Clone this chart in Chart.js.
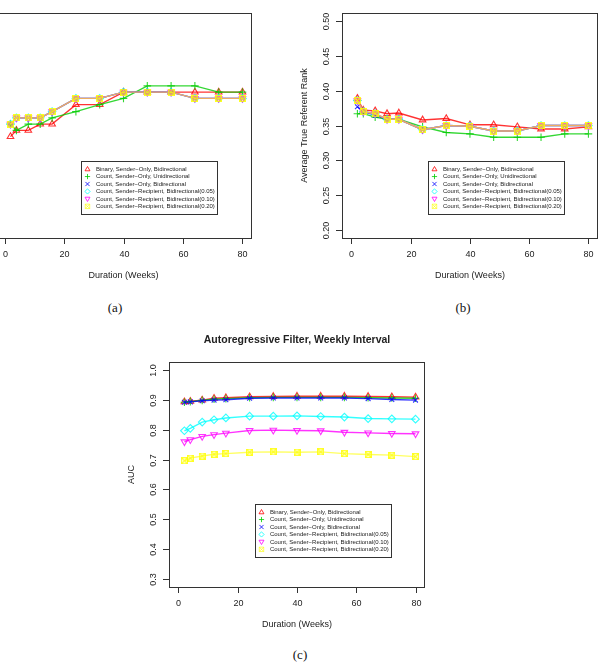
<!DOCTYPE html>
<html>
<head>
<meta charset="utf-8">
<title>Duration vs. performance</title>
<script src="https://cdn.jsdelivr.net/npm/chart.js@4.4.0/dist/chart.umd.min.js"></script>
<style>
    html, body { margin: 0; padding: 0; background: #fff; }
    body { position: relative; width: 603px; height: 666px; overflow: hidden; }
    .panel { position: absolute; }
    .cap {
        position: absolute;
        font-family: "Liberation Serif", "DejaVu Serif", serif;
        font-size: 13px;
        color: #111;
        -webkit-font-smoothing: antialiased;
        transform: translate(-50%, -50%);
    }
</style>
</head>
<body>
<div class="panel" style="left:-60px; top:0px;"><canvas id="chart-a" width="320" height="290"></canvas></div>
<div class="panel" style="left:300px; top:0px;"><canvas id="chart-b" width="303" height="290"></canvas></div>
<div class="panel" style="left:120px; top:325px;"><canvas id="chart-c" width="320" height="310"></canvas></div>
<div class="cap" style="left:115px; top:308px;">(a)</div>
<div class="cap" style="left:463px; top:308px;">(b)</div>
<div class="cap" style="left:300px; top:655px;">(c)</div>

<script>
// Durations (weeks) shared by every series
const weeks = [2, 4, 8, 12, 16, 24, 32, 40, 48, 56, 64, 72, 80];

const seriesLabels = [
    'Binary, Sender\u2212Only, Bidirectional',
    'Count, Sender\u2212Only, Unidirectional',
    'Count, Sender\u2212Only, Bidirectional',
    'Count, Sender\u2212Recipient, Bidirectional(0.05)',
    'Count, Sender\u2212Recipient, Bidirectional(0.10)',
    'Count, Sender\u2212Recipient, Bidirectional(0.20)'
];

// Panel (a) - y axis is cut off in the source, values read on the (b) scale
const aBinary   = [0.334, 0.343, 0.343, 0.352, 0.352, 0.380, 0.380, 0.398, 0.398, 0.398, 0.398, 0.398, 0.398];
const aCountUni = [0.352, 0.343, 0.352, 0.352, 0.361, 0.370, 0.380, 0.389, 0.407, 0.407, 0.407, 0.398, 0.398];
const aCountBi  = [0.352, 0.361, 0.361, 0.361, 0.370, 0.389, 0.389, 0.398, 0.398, 0.398, 0.389, 0.389, 0.389];
const aRecip05  = [0.352, 0.361, 0.361, 0.361, 0.370, 0.389, 0.389, 0.398, 0.398, 0.398, 0.389, 0.389, 0.389];
const aRecip10  = [0.352, 0.361, 0.361, 0.361, 0.370, 0.389, 0.389, 0.398, 0.398, 0.398, 0.389, 0.389, 0.389];
const aRecip20  = [0.352, 0.361, 0.361, 0.361, 0.370, 0.389, 0.389, 0.398, 0.398, 0.398, 0.389, 0.389, 0.389];

// Panel (b) - average true referent rank
const bBinary   = [0.389, 0.372, 0.371, 0.367, 0.368, 0.358, 0.360, 0.351, 0.351, 0.348, 0.345, 0.345, 0.348];
const bCountUni = [0.367, 0.367, 0.362, 0.359, 0.359, 0.348, 0.340, 0.338, 0.333, 0.333, 0.333, 0.338, 0.338];
const bCountBi  = [0.377, 0.370, 0.365, 0.359, 0.359, 0.344, 0.350, 0.349, 0.342, 0.342, 0.350, 0.350, 0.350];
const bRecip05  = [0.386, 0.370, 0.367, 0.359, 0.359, 0.344, 0.350, 0.349, 0.342, 0.342, 0.350, 0.350, 0.350];
const bRecip10  = [0.386, 0.370, 0.367, 0.359, 0.359, 0.344, 0.350, 0.349, 0.342, 0.342, 0.350, 0.350, 0.350];
const bRecip20  = [0.386, 0.370, 0.367, 0.359, 0.359, 0.344, 0.350, 0.349, 0.342, 0.342, 0.350, 0.350, 0.350];

// Panel (c) - AUC, autoregressive filter
const cBinary   = [0.894, 0.896, 0.900, 0.906, 0.908, 0.911, 0.912, 0.913, 0.913, 0.913, 0.912, 0.911, 0.910];
const cCountUni = [0.893, 0.895, 0.899, 0.903, 0.905, 0.908, 0.909, 0.909, 0.909, 0.909, 0.908, 0.907, 0.906];
const cCountBi  = [0.893, 0.894, 0.898, 0.900, 0.901, 0.906, 0.907, 0.907, 0.907, 0.907, 0.905, 0.902, 0.900];
const cRecip05  = [0.797, 0.805, 0.826, 0.834, 0.840, 0.846, 0.846, 0.847, 0.845, 0.843, 0.838, 0.837, 0.836];
const cRecip10  = [0.760, 0.767, 0.778, 0.784, 0.789, 0.798, 0.799, 0.798, 0.797, 0.792, 0.790, 0.788, 0.787];
const cRecip20  = [0.696, 0.705, 0.712, 0.718, 0.720, 0.725, 0.726, 0.725, 0.726, 0.720, 0.717, 0.715, 0.710];

const xTickValues = [0, 20, 40, 60, 80];
const bTickValues = [0.20, 0.25, 0.30, 0.35, 0.40, 0.45, 0.50];
const cTickValues = [0.3, 0.4, 0.5, 0.6, 0.7, 0.8, 0.9, 1.0];

// R palette 2:7
const seriesRgb = ['255,0,0', '0,205,0', '0,0,255', '0,255,255', '255,0,255', '255,255,0'];
const seriesAlpha = [0.8, 0.8, 0.8, 0.8, 0.8, 0.62];
const FONT = '"Liberation Sans", Arial, Helvetica, sans-serif';

function rgba(i) {
    return 'rgba(' + seriesRgb[i] + ',' + seriesAlpha[i] + ')';
}

/**
 * pch 7 - square with a cross, built as a small canvas
 */
function boxCrossMarker(color, size) {
    const c = document.createElement('canvas');
    c.width = size; c.height = size;
    const g = c.getContext('2d');
    g.strokeStyle = color;
    g.lineWidth = 1.2;
    g.strokeRect(0.6, 0.6, size - 1.2, size - 1.2);
    g.beginPath();
    g.moveTo(0.5, 0.5); g.lineTo(size - 0.5, size - 0.5);
    g.moveTo(size - 0.5, 0.5); g.lineTo(0.5, size - 0.5);
    g.stroke();
    return c;
}

const markerStyles = [
    { pointStyle: 'triangle', radius: 3.8, rotation: 0 },
    { pointStyle: 'cross', radius: 3.8, rotation: 0 },
    { pointStyle: 'crossRot', radius: 3.4, rotation: 0 },
    { pointStyle: 'rectRot', radius: 3.8, rotation: 0 },
    { pointStyle: 'triangle', radius: 3.8, rotation: 180 },
    { pointStyle: boxCrossMarker('rgba(255,255,0,0.8)', 7), radius: 3.5, rotation: 0 }
];

function buildDatasets(seriesList) {
    return seriesList.map(function(values, i) {
        return {
            label: seriesLabels[i],
            data: weeks.map(function(w, k) { return { x: w, y: values[k] }; }),
            borderColor: rgba(i),
            backgroundColor: 'rgba(0,0,0,0)',
            borderWidth: 1.4,
            pointStyle: markerStyles[i].pointStyle,
            pointRadius: markerStyles[i].radius,
            pointRotation: markerStyles[i].rotation,
            pointBorderColor: rgba(i),
            pointBackgroundColor: 'rgba(0,0,0,0)',
            pointBorderWidth: 1.1,
            showLine: true,
            tension: 0,
            fill: false,
            order: seriesList.length - i   // last series drawn on top, as in R
        };
    });
}

/**
 * Simple legend symbol painter (same shapes as the plotted points)
 */
function drawLegendSymbol(ctx, i, x, y) {
    const r = 2.6;
    ctx.save();
    ctx.strokeStyle = rgba(i);
    ctx.lineWidth = 1;
    ctx.beginPath();
    if (i === 0 || i === 4) {
        const s = i === 0 ? 1 : -1;
        ctx.moveTo(x, y - s * r);
        ctx.lineTo(x + r * 0.95, y + s * r * 0.65);
        ctx.lineTo(x - r * 0.95, y + s * r * 0.65);
        ctx.closePath();
    } else if (i === 1) {
        ctx.moveTo(x - r, y); ctx.lineTo(x + r, y);
        ctx.moveTo(x, y - r); ctx.lineTo(x, y + r);
    } else if (i === 2) {
        ctx.moveTo(x - r * 0.8, y - r * 0.8); ctx.lineTo(x + r * 0.8, y + r * 0.8);
        ctx.moveTo(x + r * 0.8, y - r * 0.8); ctx.lineTo(x - r * 0.8, y + r * 0.8);
    } else if (i === 3) {
        ctx.moveTo(x, y - r); ctx.lineTo(x + r, y); ctx.lineTo(x, y + r); ctx.lineTo(x - r, y);
        ctx.closePath();
    } else {
        ctx.rect(x - r * 0.85, y - r * 0.85, r * 1.7, r * 1.7);
        ctx.moveTo(x - r * 0.85, y - r * 0.85); ctx.lineTo(x + r * 0.85, y + r * 0.85);
        ctx.moveTo(x + r * 0.85, y - r * 0.85); ctx.lineTo(x - r * 0.85, y + r * 0.85);
    }
    ctx.stroke();
    ctx.restore();
}

/**
 * R-style box, axes, titles and legend drawn around the chart area
 */
const rFramePlugin = {
    id: 'rframe',
    afterDatasetsDraw(chart, args, opts) {
        const ctx = chart.ctx;
        const a = chart.chartArea;
        const xs = chart.scales.x;
        const ys = chart.scales.y;
        const ink = '#222';

        ctx.save();
        ctx.strokeStyle = '#333';
        ctx.lineWidth = 1;
        ctx.strokeRect(Math.round(a.left) + 0.5, Math.round(a.top) + 0.5,
            Math.round(a.right - a.left) - 1, Math.round(a.bottom - a.top));

        ctx.fillStyle = ink;
        ctx.font = '9px ' + FONT;
        ctx.textAlign = 'center';
        ctx.textBaseline = 'middle';

        // x axis
        opts.xTicks.forEach(function(v) {
            const px = Math.round(xs.getPixelForValue(v)) + 0.5;
            ctx.beginPath();
            ctx.moveTo(px, a.bottom);
            ctx.lineTo(px, a.bottom + 6);
            ctx.stroke();
            ctx.fillText(String(v), px, a.bottom + 17);
        });
        ctx.fillText(opts.xTitle, (a.left + a.right) / 2, a.bottom + 38);

        // y axis, labels parallel to the axis
        opts.yTicks.forEach(function(v) {
            const py = Math.round(ys.getPixelForValue(v)) + 0.5;
            ctx.beginPath();
            ctx.moveTo(a.left, py);
            ctx.lineTo(a.left - 6, py);
            ctx.stroke();
            ctx.save();
            ctx.translate(a.left - 15.5, py);
            ctx.rotate(-Math.PI / 2);
            ctx.fillText(v.toFixed(opts.yDecimals), 0, 0);
            ctx.restore();
        });
        if (opts.yTitle) {
            ctx.save();
            ctx.translate(a.left - 37, (a.top + a.bottom) / 2);
            ctx.rotate(-Math.PI / 2);
            ctx.fillText(opts.yTitle, 0, 0);
            ctx.restore();
        }

        if (opts.title) {
            ctx.font = 'bold 10.5px ' + FONT;
            ctx.fillText(opts.title, (a.left + a.right) / 2, a.top - 21.5);
        }

        // legend box placed at data coordinates (top-left corner)
        const lx = Math.round(xs.getPixelForValue(opts.legendAt[0])) + 0.5;
        const ly = Math.round(ys.getPixelForValue(opts.legendAt[1])) + 0.5;
        const lw = 136, lh = 53;
        ctx.fillStyle = '#fff';
        ctx.fillRect(lx, ly, lw, lh);
        ctx.strokeStyle = '#333';
        ctx.strokeRect(lx, ly, lw, lh);
        ctx.font = '6px ' + FONT;
        ctx.textAlign = 'left';
        ctx.fillStyle = ink;
        seriesLabels.forEach(function(label, i) {
            const rowY = ly + 7.6 + i * 7.45;
            drawLegendSymbol(ctx, i, lx + 6, rowY);
            ctx.fillStyle = ink;
            ctx.fillText(label, lx + 14.4, rowY);
        });
        ctx.restore();
    }
};

/**
 * Build one panel
 */
function initPanel(canvasId, seriesList, yMin, yMax, padding, frameOpts) {
    const ctx = document.getElementById(canvasId);
    if (!ctx) return null;

    const config = {
        type: 'scatter',
        data: { datasets: buildDatasets(seriesList) },
        options: {
            responsive: false,
            animation: false,
            events: [],
            layout: { padding: padding },
            scales: {
                x: { type: 'linear', min: -3.2, max: 83.2, display: false },
                y: { type: 'linear', min: yMin, max: yMax, display: false }
            },
            plugins: {
                legend: { display: false },
                tooltip: { enabled: false },
                rframe: frameOpts
            }
        },
        plugins: [rFramePlugin]
    };
    return new Chart(ctx, config);
}

initPanel('chart-a',
    [aBinary, aCountUni, aCountBi, aRecip05, aRecip10, aRecip20],
    0.188, 0.512,
    { left: 55, right: 8, top: 13, bottom: 52 },
    { xTicks: xTickValues, yTicks: bTickValues, yDecimals: 2, yTitle: '',
      xTitle: 'Duration (Weeks)', title: '', legendAt: [25.8, 0.299] });

initPanel('chart-b',
    [bBinary, bCountUni, bCountBi, bRecip05, bRecip10, bRecip20],
    0.188, 0.512,
    { left: 42, right: 5, top: 13, bottom: 52 },
    { xTicks: xTickValues, yTicks: bTickValues, yDecimals: 2, yTitle: 'Average True Referent Rank',
      xTitle: 'Duration (Weeks)', title: '', legendAt: [25.8, 0.299] });

initPanel('chart-c',
    [cBinary, cCountUni, cCountBi, cRecip05, cRecip10, cRecip20],
    0.272, 1.028,
    { left: 49, right: 15, top: 37, bottom: 48 },
    { xTicks: xTickValues, yTicks: cTickValues, yDecimals: 1, yTitle: 'AUC',
      xTitle: 'Duration (Weeks)', title: 'Autoregressive Filter, Weekly Interval', legendAt: [25.8, 0.55] });
</script>
</body>
</html>
